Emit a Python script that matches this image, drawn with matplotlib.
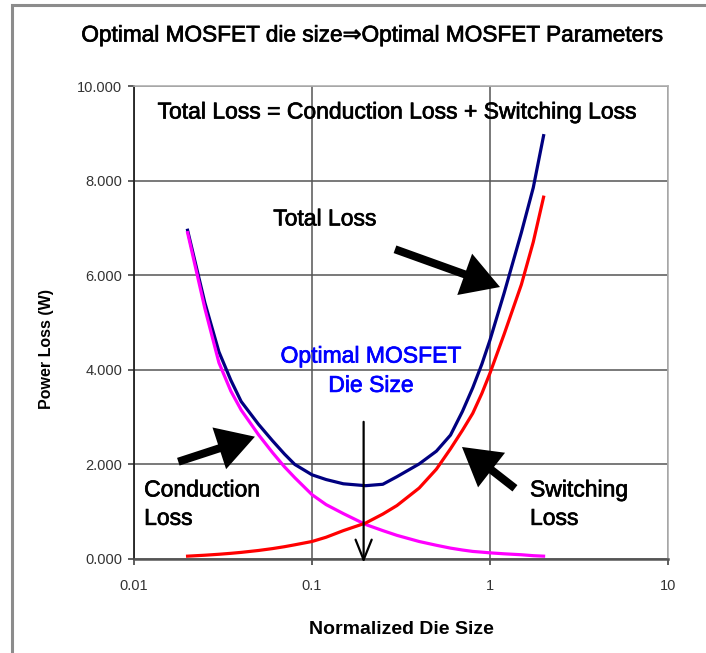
import matplotlib
matplotlib.use("Agg")
import matplotlib.pyplot as plt
import matplotlib.patheffects as pe
from matplotlib.patches import Rectangle
from matplotlib.ticker import FixedLocator, FixedFormatter

plt.rcParams['font.family'] = ['Liberation Sans', 'DejaVu Sans']

# Normalized die size samples and the three loss curves (W)
die_size = [0.02, 0.025, 0.03, 0.035, 0.04, 0.05, 0.06, 0.07, 0.08, 0.1, 0.12, 0.15,
            0.2, 0.25, 0.3, 0.4, 0.5, 0.6, 0.7, 0.8, 0.9, 1, 1.2, 1.5, 1.75, 2]
conduction_loss = [6.90, 5.30, 4.15, 3.55, 3.15, 2.63, 2.25, 1.95, 1.72, 1.36, 1.15, 0.96,
                   0.73, 0.60, 0.50, 0.37, 0.29, 0.23, 0.19, 0.16, 0.145, 0.13, 0.11, 0.09, 0.07, 0.06]
switching_loss = [0.06, 0.08, 0.10, 0.12, 0.14, 0.18, 0.22, 0.26, 0.30, 0.37, 0.46, 0.60,
                  0.76, 0.95, 1.13, 1.50, 1.90, 2.33, 2.72, 3.08, 3.50, 3.93, 4.75, 5.80, 6.70, 7.65]
total_loss = [6.95, 5.42, 4.38, 3.78, 3.33, 2.85, 2.50, 2.22, 2.00, 1.78, 1.68, 1.59,
              1.55, 1.58, 1.74, 2.01, 2.28, 2.62, 3.12, 3.62, 4.12, 4.63, 5.62, 6.90, 7.85, 8.95]

x_ticks = [0.01, 0.1, 1, 10]
x_tick_labels = ["0.01", "0.1", "1", "10"]
y_ticks = [0, 2, 4, 6, 8, 10]
y_tick_labels = ["0.000", "2.000", "4.000", "6.000", "8.000", "10.000"]

optimal_size = 0.195

fig = plt.figure(figsize=(7.06, 6.53), dpi=100)
fig.patch.set_facecolor('white')

# outer frame (only top and left edges fall inside the canvas)
fig.patches.append(Rectangle((12 / 706, -0.05), 1.2, (653 - 5) / 653 + 0.05,
                             transform=fig.transFigure, fill=False,
                             edgecolor='#8c8c8c', linewidth=2.2))

ax = fig.add_axes([134 / 706, (653 - 559) / 653, (668 - 134) / 706, (559 - 86) / 653])
ax.set_xscale('log')
ax.set_xlim(0.01, 10)
ax.set_ylim(0, 10)

ax.xaxis.set_major_locator(FixedLocator(x_ticks))
ax.xaxis.set_major_formatter(FixedFormatter(x_tick_labels))
ax.xaxis.set_minor_locator(FixedLocator([]))
ax.yaxis.set_major_locator(FixedLocator(y_ticks))
ax.yaxis.set_major_formatter(FixedFormatter(y_tick_labels))

ax.grid(True, color='#555555', linewidth=1.1)
ax.set_axisbelow(True)
for side in ('top', 'right'):
    ax.spines[side].set_color('#b0b0b0')
    ax.spines[side].set_linewidth(1.2)
ax.spines['left'].set_color('#222222')
ax.spines['left'].set_linewidth(1.3)
ax.spines['bottom'].set_color('#555555')
ax.spines['bottom'].set_linewidth(1.8)
ax.tick_params(axis='both', which='major', direction='out', length=4.5,
               width=1.1, colors='#333333', labelsize=10.5)
ax.tick_params(axis='x', pad=10)
ax.tick_params(axis='y', pad=4)

lw = 2.3
ax.plot(die_size, total_loss, color='#000080', linewidth=lw, zorder=3)
ax.plot(die_size, conduction_loss, color='#ff00ff', linewidth=lw, zorder=4)
ax.plot(die_size, switching_loss, color='#ff0000', linewidth=lw, zorder=5)

# annotations
fs = 16.5


def heavy(color):
    return [pe.withStroke(linewidth=0.5, foreground=color)]


ax.text(0.30, 9.45, "Total Loss = Conduction Loss + Switching Loss",
        ha='center', va='center', fontsize=fs, color='black', zorder=6,
        path_effects=heavy('black'))
ax.text(0.118, 7.19, "Total Loss", ha='center', va='center', fontsize=fs, zorder=6,
        path_effects=heavy('black'))
ax.text(0.214, 3.98, "Optimal MOSFET\nDie Size", ha='center', va='center',
        fontsize=fs, color='#0000ff', linespacing=1.35, zorder=6,
        path_effects=heavy('#0000ff'))
ax.text(0.0114, 1.16, "Conduction\nLoss", ha='left', va='center',
        fontsize=fs, linespacing=1.3, zorder=6, path_effects=heavy('black'))
ax.text(1.678, 1.16, "Switching\nLoss", ha='left', va='center',
        fontsize=fs, linespacing=1.3, zorder=6, path_effects=heavy('black'))

big_arrow = dict(arrowstyle='simple,head_length=1.35,head_width=1.58,tail_width=0.29',
                 mutation_scale=20, color='black', shrinkA=0, shrinkB=0, lw=0)
ax.annotate("", xy=(0.0478, 2.586), xytext=(0.01774, 2.057),
            arrowprops=big_arrow, zorder=7)
ax.annotate("", xy=(1.138, 5.75), xytext=(0.2926, 6.548),
            arrowprops=big_arrow, zorder=7)
ax.annotate("", xy=(0.696, 2.368), xytext=(1.381, 1.495),
            arrowprops=big_arrow, zorder=7)

ax.annotate("", xy=(optimal_size, -0.08), xytext=(optimal_size, 2.9),
            arrowprops=dict(arrowstyle='->,head_length=1.45,head_width=0.58',
                            mutation_scale=10, color='black', lw=1.6,
                            shrinkA=0, shrinkB=0),
            annotation_clip=False, zorder=7)

fig.text(372 / 706, 1 - 35 / 653, "Optimal MOSFET die size\u21d2Optimal MOSFET Parameters",
         ha='center', va='center', fontsize=16.3, color='black',
         path_effects=heavy('black'))
fig.text(401 / 706, 1 - 630 / 653, "Normalized Die Size", ha='center', va='center',
         fontsize=14, fontweight='bold', color='black')
fig.text(46 / 706, 1 - 349 / 653, "Power Loss (W)", ha='center', va='center',
         rotation=90, fontsize=11.5, fontweight='bold', color='black')

fig.savefig("out.png", dpi=100, facecolor='white')
